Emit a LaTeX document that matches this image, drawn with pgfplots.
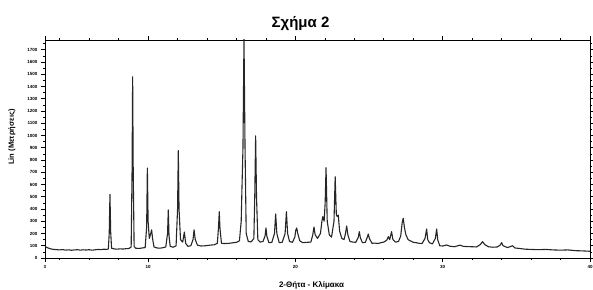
\documentclass[border=0pt]{standalone}
\usepackage{fontspec}
\setmainfont{Liberation Sans}
\usepackage{pgfplots}
\pgfplotsset{compat=1.18}
\usepackage{pgfplotstable}
\pgfplotstableread{
x y
3.00 95
3.10 88
3.25 80
3.40 74
3.60 70
3.80 68
4.00 66
4.20 69
4.40 64
4.60 67
4.80 63
5.00 66
5.20 68
5.40 64
5.60 67
5.80 65
6.00 68
6.20 64
6.40 67
6.60 70
6.80 68
7.00 72
7.20 70
7.30 74
7.36 200
7.41 520
7.46 210
7.52 80
7.70 74
7.90 72
8.10 75
8.30 73
8.50 76
8.70 78
8.85 90
8.91 700
8.95 1480
8.99 700
9.05 95
9.15 80
9.40 78
9.60 82
9.80 85
9.90 250
9.95 735
10.00 300
10.08 160
10.18 200
10.24 230
10.30 160
10.40 90
10.60 82
10.80 80
11.00 84
11.20 90
11.32 200
11.37 392
11.42 180
11.50 95
11.70 88
11.90 100
12.00 400
12.05 877
12.10 400
12.20 150
12.35 130
12.46 212
12.55 120
12.70 95
12.90 100
13.05 150
13.12 230
13.20 150
13.35 105
13.60 98
13.90 100
14.20 105
14.50 108
14.70 120
14.78 250
14.83 378
14.88 240
14.98 120
15.20 118
15.50 120
15.80 125
16.00 128
16.20 140
16.32 300
16.37 560
16.44 900
16.51 1800
16.58 900
16.66 200
16.80 135
17.00 132
17.18 160
17.24 500
17.30 997
17.36 500
17.45 150
17.60 130
17.80 135
17.94 180
18.00 245
18.06 180
18.20 125
18.40 128
18.58 200
18.66 360
18.74 200
18.90 125
19.10 128
19.30 200
19.39 378
19.47 200
19.60 135
19.80 128
19.96 170
20.03 230
20.09 245
20.16 200
20.30 140
20.50 125
20.80 128
21.05 130
21.18 190
21.26 253
21.34 190
21.50 160
21.70 200
21.80 300
21.86 338
21.95 300
22.02 450
22.08 738
22.16 300
22.30 190
22.45 170
22.62 300
22.70 664
22.78 350
22.84 340
22.91 351
23.00 220
23.15 160
23.30 150
23.40 200
23.48 261
23.56 190
23.70 135
23.90 130
24.10 128
24.27 170
24.34 215
24.41 165
24.55 125
24.75 128
24.88 170
24.95 196
25.02 160
25.20 120
25.40 122
25.60 118
25.80 125
26.00 130
26.20 145
26.31 174
26.40 150
26.53 215
26.62 150
26.80 130
27.00 135
27.15 180
27.25 290
27.32 324
27.40 250
27.50 190
27.65 150
27.80 140
28.00 128
28.20 125
28.40 120
28.60 118
28.80 160
28.91 237
28.98 150
29.10 125
29.30 115
29.50 160
29.59 237
29.66 150
29.80 100
30.00 98
30.27 106
30.50 96
30.80 92
31.17 105
31.40 95
31.70 93
32.00 92
32.30 90
32.55 110
32.71 133
32.85 110
33.10 92
33.40 88
33.70 90
33.90 105
34.00 125
34.10 100
34.40 85
34.75 100
34.90 82
35.20 78
35.60 72
36.00 70
36.50 68
37.00 70
37.50 66
38.00 64
38.50 66
39.00 60
39.50 58
40.00 55
}\xrd
\begin{document}
\begin{tikzpicture}
\begin{axis}[
  name=ax,
  scale only axis,
  width=545pt, height=218pt,
  xmin=3, xmax=40, ymin=0, ymax=1780,
  xtick={3,10,20,30,40},
  minor xtick={4,6,8,12,14,16,18,22,24,26,28,32,34,36,38},
  ytick={0,100,...,1700},
  minor ytick={50,150,...,1750},
  tick align=outside,
  major tick length=4pt,
  minor tick length=2pt,
  axis line style={black, line width=0.9pt},
  every tick/.style={black, line width=0.6pt},
  ticklabel style={font=\fontsize{4.5}{5}\selectfont\bfseries},
  /pgf/number format/assume math mode=true,
  scaled y ticks=false,
  yticklabel style={/pgf/number format/1000 sep={}},
  clip=true,
]
\addplot[black!85, line width=1.1pt, line join=round] table[x=x,y=y] {\xrd};
\end{axis}
\node[anchor=base, font=\fontsize{15}{17}\selectfont\bfseries] at ([shift={(-17pt,12pt)}]ax.north) {Σχήμα 2};
\node[anchor=base, font=\fontsize{8}{9}\selectfont\bfseries] at ([shift={(-6pt,-29pt)}]ax.south) {2-Θήτα - Κλίμακα};
\node[rotate=90, anchor=center, font=\fontsize{7.5}{9}\selectfont\bfseries] at ([shift={(-33pt,12pt)}]ax.west) {Lin (Μετρήσεις)};
\pgfresetboundingbox
\path ([shift={(-45pt,-31pt)}]ax.south west) rectangle ([shift={(3pt,40pt)}]ax.north east);
\end{tikzpicture}
\end{document}
